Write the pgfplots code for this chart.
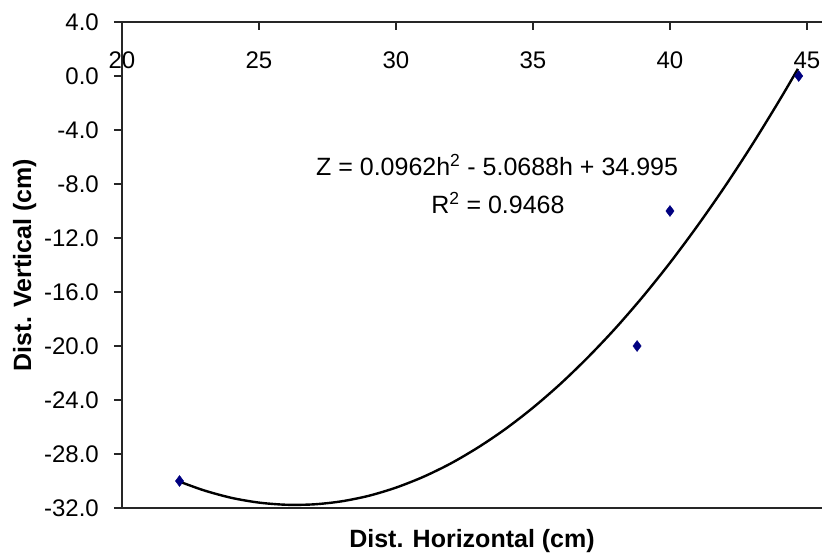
\documentclass[border=0pt]{standalone}
\usepackage{pgfplots}
\pgfplotsset{compat=1.18}
\usepackage{fontspec}
\setmainfont{Liberation Sans}
\begin{document}
\begin{tikzpicture}
\begin{axis}[
  name=ax, at={(0,0)}, anchor=south west,
  scale only axis, width=700pt, height=486pt,
  xmin=20, xmax=45.55, ymin=-32, ymax=4,
  axis x line*=top, axis y line*=left,
  axis line style={line width=1.2pt, black!85},
  xtick={20,25,30,35,40,45},
  xticklabels={20,25,30,35,40,45},
  ytick={-32,-28,-24,-20,-16,-12,-8,-4,0,4},
  yticklabels={-32.0,-28.0,-24.0,-20.0,-16.0,-12.0,-8.0,-4.0,0.0,4.0},
  xtick align=inside, ytick align=outside,
  major tick length=8pt,
  tick style={line width=1.2pt, black!85},
  xticklabel style={anchor=center, yshift=-38pt, font=\fontsize{24}{28}\selectfont},
  yticklabel style={font=\fontsize{24}{28}\selectfont, inner sep=0pt, xshift=-15pt},
  every axis y label/.style={at={(axis description cs:-0.139,0.5)}, rotate=90, anchor=center},
  every axis x label/.style={at={(axis description cs:0.5,-0.068)}, anchor=center},
  ylabel={\fontsize{25}{29}\selectfont\bfseries Dist. Vertical (cm)},
  xlabel={\fontsize{25}{29}\selectfont\bfseries Dist. Horizontal (cm)},
  clip=false,
]
\draw[line width=1.2pt, black!85] (rel axis cs:0,0) -- (rel axis cs:1,0);
\addplot[black, line width=2.4pt, smooth] coordinates {
  (22.12,-30.06) (23,-30.70) (24,-31.25) (25,-31.60) (26,-31.76) (27,-31.73)
  (28,-31.51) (29,-31.10) (30,-30.49) (31,-29.69) (32,-28.70) (33,-27.51)
  (34,-26.14) (35,-24.57) (36,-22.81) (37,-20.85) (38,-18.71) (39,-16.37)
  (40,-13.84) (41,-11.11) (42,-8.20) (43,-5.09) (44,-1.79) (44.67,0.53)
};
\addplot[only marks, mark=diamond*, mark size=5.5pt, color={rgb,255:red,0;green,0;blue,128}] coordinates {
  (22.1,-30) (38.8,-20) (40,-10) (44.7,0)
};
\node[font=\fontsize{25}{29}\selectfont, anchor=center] at (axis cs:33.69,-6.59) {Z = 0.0962h$^{\mathrm{2}}$ - 5.0688h + 34.995};
\node[font=\fontsize{25}{29}\selectfont, anchor=center] at (axis cs:33.72,-9.41) {R$^{\mathrm{2}}$ = 0.9468};
\end{axis}
\pgfresetboundingbox
\path[use as bounding box] (-122pt,-49pt) rectangle (700pt,508pt);
\end{tikzpicture}
\end{document}
